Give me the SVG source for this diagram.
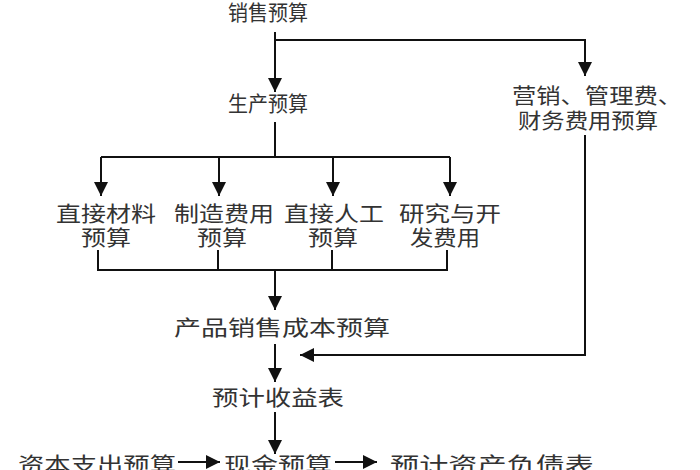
<svg xmlns="http://www.w3.org/2000/svg" width="700" height="470" viewBox="0 0 700 470">
<defs><marker id="a" viewBox="0 0 10 10" refX="10" refY="5" markerWidth="20" markerHeight="14" markerUnits="userSpaceOnUse" orient="auto"><path d="M0,0L10,5L0,10z" fill="#111"/></marker>
<style>text{font-family:"Noto Sans CJK SC",sans-serif;font-size:21px;fill:#333;text-anchor:middle}.l{stroke:#111;stroke-width:2;fill:none}.m{marker-end:url(#a)}</style></defs>
<rect width="700" height="470" fill="#fff"/>
<g id="connectors">
<path class="l m" d="M275,32V92"/>
<path class="l m" d="M275,40H585V76"/>
<path class="l" d="M275,122V157M101,157H450M219,157V160M333,157V160"/>
<path class="l m" d="M101,157V196"/><path class="l m" d="M219,157V196"/><path class="l m" d="M333,157V196"/><path class="l m" d="M450,157V196"/>
<path class="l" d="M98,250V270H447V250M218,250V270M332,250V270"/>
<path class="l m" d="M275,270V310"/>
<path class="l m" d="M275,344V382"/>
<path class="l m" d="M585,135V355H300"/>
<path class="l m" d="M275,412V454"/>
<path class="l m" d="M178,462H220"/>
<path class="l m" d="M335,462H377"/>
</g>
<g id="n1"><text x="268" y="20" textLength="80" lengthAdjust="spacingAndGlyphs">销售预算</text></g>
<g id="n2"><text x="268" y="111" textLength="80" lengthAdjust="spacingAndGlyphs">生产预算</text></g>
<g id="n3"><text x="597" y="103" textLength="170" lengthAdjust="spacingAndGlyphs">营销、管理费、</text><text x="588" y="128" textLength="140" lengthAdjust="spacingAndGlyphs">财务费用预算</text></g>
<g id="n4"><text x="106" y="221" textLength="100" lengthAdjust="spacingAndGlyphs">直接材料</text><text x="106" y="245" textLength="50" lengthAdjust="spacingAndGlyphs">预算</text></g>
<g id="n5"><text x="224" y="221" textLength="100" lengthAdjust="spacingAndGlyphs">制造费用</text><text x="222" y="245" textLength="50" lengthAdjust="spacingAndGlyphs">预算</text></g>
<g id="n6"><text x="334" y="221" textLength="100" lengthAdjust="spacingAndGlyphs">直接人工</text><text x="333" y="245" textLength="50" lengthAdjust="spacingAndGlyphs">预算</text></g>
<g id="n7"><text x="450" y="221" textLength="102" lengthAdjust="spacingAndGlyphs">研究与开</text><text x="445" y="245" textLength="70" lengthAdjust="spacingAndGlyphs">发费用</text></g>
<g id="n8"><text x="282" y="335" textLength="216" lengthAdjust="spacingAndGlyphs">产品销售成本预算</text></g>
<g id="n9"><text x="278" y="405" textLength="132" lengthAdjust="spacingAndGlyphs">预计收益表</text></g>
<g id="n10"><text x="97" y="472" textLength="158" lengthAdjust="spacingAndGlyphs">资本支出预算</text></g>
<g id="n11"><text x="278" y="472" textLength="108" lengthAdjust="spacingAndGlyphs">现金预算</text></g>
<g id="n12"><text x="492" y="472" textLength="204" lengthAdjust="spacingAndGlyphs">预计资产负债表</text></g>
</svg>
